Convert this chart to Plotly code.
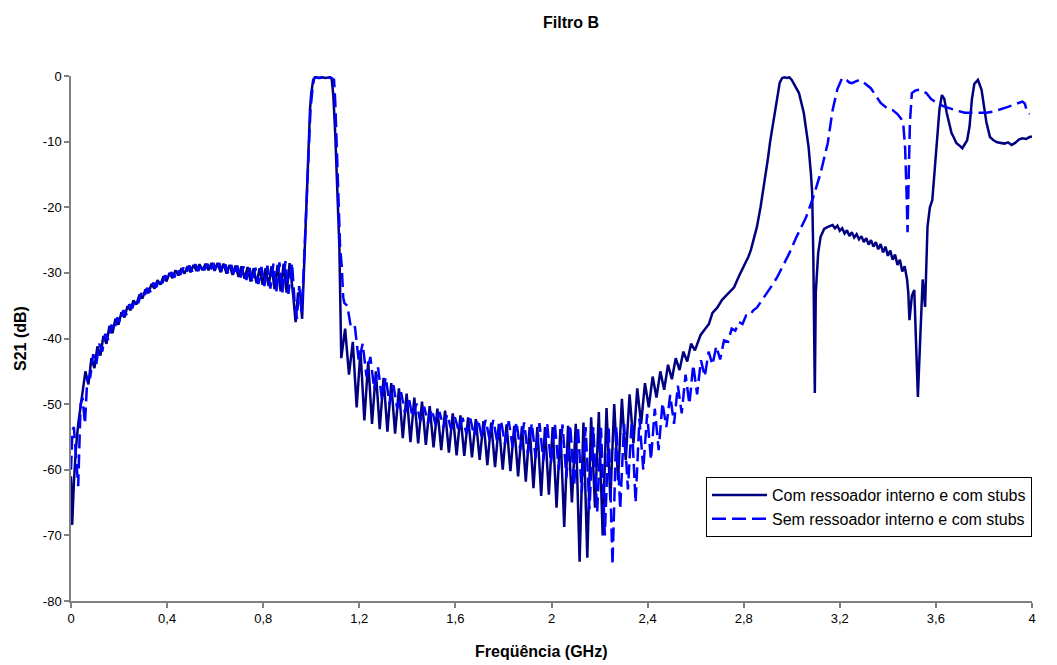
import plotly.graph_objects as go

# ---------------- S21 data (GHz, dB) ----------------
# Filter with internal resonator and stubs (solid)
solid_start_f = [0.0, 0.005, 0.012, 0.02, 0.03, 0.04, 0.05]
solid_start_db = [-61, -68.4, -62, -57, -53, -50.5, -48]

# low band ripple, sampled every 0.0125 GHz from 0.06 GHz
solid_low_f0, solid_low_step = 0.06, 0.0125
solid_low_db = [
    -45, -47, -43, -44.5, -41.2, -42.6, -39.6, -40.8, -38.1, -39.2,
    -37, -37.9, -36, -36.8, -35.1, -35.7, -34.2, -34.8, -33.3, -33.9,
    -32.5, -33.1, -31.7, -32.4, -31.1, -31.8, -30.5, -31.3, -30, -30.8,
    -29.6, -30.4, -29.3, -30.1, -29, -29.9, -28.8, -29.7, -28.7, -29.6,
    -28.6, -29.6, -28.5, -29.7, -28.5, -29.9, -28.6, -30.1, -28.8, -30.3,
    -28.9, -30.6, -29, -30.9, -29.1, -31.3, -29.3, -31.6, -29.3, -31.8,
    -29.3, -32, -29, -32.5, -28.8, -32.8, -28.6, -33, -28.5,
]

# passband around 1.05 GHz
solid_band_f = [0.925, 0.935, 0.945, 0.955, 0.962, 0.97, 0.978, 0.987, 0.995, 1.0,
                1.008, 1.015, 1.03, 1.045, 1.06, 1.075, 1.085, 1.092, 1.1, 1.107,
                1.112, 1.117]
solid_band_db = [-33.5, -37.5, -33, -33.5, -37, -30, -22, -12.8, -5, -2.6,
                 -0.6, -0.2, -0.3, -0.2, -0.3, -0.2, -0.4, -3, -9, -15,
                 -21, -26]

# stopband ripple, sampled every 0.016 GHz from 1.125 GHz
solid_mid_f0, solid_mid_step = 1.125, 0.016
solid_mid_db = [
    -43, -38.5, -45.5, -40.5, -50.5, -41.8, -52.5, -43.5, -53, -45,
    -53.8, -46, -54.2, -46.8, -54.5, -47.6, -55.2, -48.4, -55.8, -49,
    -56, -49.6, -56.2, -50.3, -56.6, -50.7, -57, -51, -57.4, -51.4,
    -57.8, -51.7, -57.9, -52, -58.1, -52.3, -58.5, -52.6, -59.3, -52.8,
    -59.6, -53, -60, -53.1, -60.2, -53.3, -61, -53.4, -61.8, -53.5,
    -62.8, -53.5, -64, -53.5, -63.8, -53.5, -65.8, -53.8, -68.7, -53.3,
    -65, -53, -74, -52.8, -73.4, -52, -65.8, -51.2, -70, -50.6,
    -64.6, -50, -61.6, -49.2, -58.5, -48.5, -56, -47.6, -53, -46.8,
    -50.5, -45.8, -49, -45, -47.8, -44, -46.2, -43, -44.8, -42,
    -43.5, -40.8, -41.8,
]

# upper band, spurious responses
solid_high_f = [
    2.62, 2.64, 2.655, 2.67, 2.69, 2.71, 2.73, 2.76, 2.78, 2.8,
    2.82, 2.83, 2.845, 2.855, 2.87, 2.88, 2.89, 2.9, 2.91, 2.92,
    2.93, 2.94, 2.95, 2.96, 2.97, 2.98, 2.99, 3.0, 3.015, 3.03,
    3.05, 3.07, 3.08, 3.085, 3.09, 3.096, 3.1, 3.11, 3.12, 3.135,
    3.15, 3.17, 3.18, 3.19, 3.2, 3.21, 3.22, 3.23, 3.24, 3.25,
    3.26, 3.27, 3.28, 3.29, 3.3, 3.31, 3.32, 3.33, 3.34, 3.35,
    3.36, 3.37, 3.38, 3.39, 3.4, 3.41, 3.42, 3.43, 3.44, 3.45,
    3.46, 3.47, 3.48, 3.485, 3.49, 3.5, 3.51, 3.518, 3.525, 3.535,
    3.545, 3.555, 3.565, 3.575, 3.585, 3.595, 3.605, 3.615, 3.625, 3.635,
    3.645, 3.655, 3.665, 3.675, 3.685, 3.695, 3.71, 3.72, 3.73, 3.74,
    3.75, 3.76, 3.775, 3.79, 3.8, 3.81, 3.825, 3.84, 3.855, 3.87,
    3.885, 3.9, 3.915, 3.93, 3.945, 3.96, 3.975, 3.99, 4.0,
]
solid_high_db = [
    -39.5, -38.5, -37.8, -36.1, -35.3, -34.1, -33.4, -32.2, -30.5, -29.1,
    -27.5, -26.5, -24.5, -23, -20, -17.8, -15, -12.8, -10, -7.7,
    -5, -2.6, -1, -0.3, -0.2, -0.3, -0.2, -0.6, -1.5, -2.6,
    -5.6, -10.8, -15, -17.8, -28, -48.3, -33, -27, -24.5, -23.3,
    -23, -22.7, -23.2, -22.8, -23.6, -23.2, -24, -23.5, -24.4, -23.8,
    -24.6, -24.1, -24.9, -24.4, -25.3, -24.7, -25.7, -25, -26, -25.3,
    -26.4, -25.6, -26.9, -26, -27.4, -26.6, -28, -27.2, -28.8, -28,
    -29.8, -29, -31, -33, -37.2, -33.5, -32.6, -40, -48.9, -39.8,
    -31, -35.2, -23, -20, -18.9, -14.3, -9, -5, -2.9, -3.5,
    -5.6, -7, -8.7, -9.4, -10.2, -10.5, -11, -10.4, -9.8, -7.7,
    -3.5, -1.2, -0.6, -2.1, -4.5, -7, -9.3, -9.8, -10.1, -10.2,
    -10.3, -10.1, -10.5, -10.2, -9.7, -9.5, -9.6, -9.3, -9.2,
]

# Filter without internal resonator, with stubs (dashed)
dash_start_f = [0.0, 0.006, 0.012, 0.02, 0.03, 0.04, 0.048, 0.058, 0.068]
dash_start_db = [-60, -54, -53.5, -58, -62.5, -50, -49, -53, -46]

dash_low_f0, dash_low_step = 0.08, 0.0125
dash_low_db = [
    -45.9, -42.4, -43.9, -40.8, -42, -39.3, -40.2, -37.9, -38.8, -36.8,
    -37.5, -35.7, -36.4, -34.8, -35.4, -34, -34.6, -33.1, -33.7, -32.3,
    -32.9, -31.5, -32.2, -30.9, -31.6, -30.4, -31.1, -29.9, -30.7, -29.5,
    -30.3, -29.2, -30, -28.9, -29.8, -28.7, -29.7, -28.6, -29.6, -28.6,
    -29.7, -28.5, -29.8, -28.5, -30, -28.7, -30.2, -28.8, -30.5, -28.9,
    -30.8, -29, -31.1, -29.1, -31.5, -29.2, -31.7, -29.1, -32, -28.9,
    -32.4, -28.6, -32.8, -28.4, -33, -28.2, -33.2,
]

dash_band_f = [0.92, 0.93, 0.94, 0.95, 0.96, 0.968, 0.978, 0.988, 0.997, 1.005,
               1.012, 1.02, 1.035, 1.05, 1.065, 1.08, 1.095, 1.1, 1.105, 1.11,
               1.115, 1.12, 1.127, 1.133, 1.138]
dash_band_db = [-28.5, -34, -37, -32, -36, -30, -22, -12.8, -5, -2,
                -0.4, -0.2, -0.3, -0.2, -0.4, -0.2, -0.6, -4, -10, -16,
                -21, -26, -29, -33.7, -34.6]

dash_mid_f0, dash_mid_step = 1.15, 0.016
dash_mid_db = [
    -35, -38.5, -38.3, -43.5, -40.8, -45.8, -42.8, -47.7, -44.4, -49.2,
    -45.9, -50, -47.1, -50.7, -48.2, -51.3, -49.1, -52, -49.9, -52.6,
    -50.4, -52.9, -50.8, -53.2, -51.2, -53.5, -51.6, -53.8, -52, -54.1,
    -52.1, -54.5, -52.2, -54.8, -52.3, -55.1, -52.4, -55.4, -52.4, -55.8,
    -52.5, -56.1, -52.6, -56.5, -52.7, -57, -52.8, -57.6, -52.9, -58.2,
    -52.9, -58.6, -53, -59, -53, -60, -53.1, -61.2, -53.2, -62.5,
    -53.4, -63.5, -53.5, -66, -53.5, -66.5, -53.6, -70, -53.6, -74.5,
    -53.4, -66, -53, -63, -52.6, -65, -52.2, -60, -51.5, -58.5,
    -50.7, -57, -49.8, -53.5, -48.6, -53, -47.2, -51.4, -45.5, -50,
    -44, -48.5, -43.3, -45.8, -42, -44, -41.2, -43.2, -40.3,
]

dash_high_f = [
    2.735, 2.75, 2.765, 2.78, 2.795, 2.81, 2.825, 2.84, 2.855, 2.87,
    2.885, 2.9, 2.92, 2.94, 2.965, 2.99, 3.02, 3.06, 3.09, 3.12,
    3.15, 3.17, 3.19, 3.2, 3.21, 3.225, 3.24, 3.25, 3.265, 3.28,
    3.3, 3.33, 3.35, 3.37, 3.4, 3.42, 3.44, 3.455, 3.465, 3.472,
    3.478, 3.482, 3.487, 3.492, 3.5, 3.515, 3.53, 3.55, 3.56, 3.58,
    3.6, 3.63, 3.66, 3.69, 3.72, 3.75, 3.78, 3.81, 3.84, 3.87,
    3.9, 3.93, 3.96, 3.97, 3.98, 3.99,
]
dash_high_db = [
    -40.5, -38.5, -38.8, -37.5, -37.8, -36.5, -36.5, -35.7, -35.3, -34.5,
    -33.8, -33, -31.8, -30.6, -28.8, -27, -24.5, -21.5, -18.4, -14.8,
    -10.2, -5.2, -2, -1.1, -0.3, -0.5, -1, -1.1, -0.8, -0.6,
    -1, -1.9, -3, -4.1, -5, -5.2, -5.8, -6.5, -7.7, -11,
    -18, -23.8, -15, -7, -2.6, -2.2, -2.1, -2.4, -2.6, -3.5,
    -4, -4.6, -5, -5.3, -5.6, -5.6, -5.7, -5.6, -5.4, -5.1,
    -4.7, -4.3, -3.9, -4.2, -5.5, -5.8,
]

x_tick_vals = [0, 0.4, 0.8, 1.2, 1.6, 2.0, 2.4, 2.8, 3.2, 3.6, 4.0]
x_tick_text = ["0", "0,4", "0,8", "1,2", "1,6", "2", "2,4", "2,8", "3,2", "3,6", "4"]
y_tick_vals = [0, -10, -20, -30, -40, -50, -60, -70, -80]
y_tick_text = ["0", "-10", "-20", "-30", "-40", "-50", "-60", "-70", "-80"]

series_names = ["Com ressoador interno e com stubs",
                "Sem ressoador interno e com stubs"]


def grid(f0, step, n):
    return [round(f0 + step * i, 4) for i in range(n)]


solid_f = (solid_start_f
           + grid(solid_low_f0, solid_low_step, len(solid_low_db))
           + solid_band_f
           + grid(solid_mid_f0, solid_mid_step, len(solid_mid_db))
           + solid_high_f)
solid_db = solid_start_db + solid_low_db + solid_band_db + solid_mid_db + solid_high_db

dash_f = (dash_start_f
          + grid(dash_low_f0, dash_low_step, len(dash_low_db))
          + dash_band_f
          + grid(dash_mid_f0, dash_mid_step, len(dash_mid_db))
          + dash_high_f)
dash_db = dash_start_db + dash_low_db + dash_band_db + dash_mid_db + dash_high_db

FONT = "Liberation Sans, Arial, sans-serif"
W, H = 1057, 665
ML, MR, MT, MB = 71, 25, 76, 64

fig = go.Figure()
fig.add_trace(go.Scatter(
    x=solid_f, y=solid_db, mode="lines", name=series_names[0],
    legendgroup="a",
    line=dict(color="#000080", width=2.5),
))
fig.add_trace(go.Scatter(
    x=dash_f, y=dash_db, mode="lines", name=series_names[1],
    legendgroup="b",
    line=dict(color="#0000FF", width=2.5, dash="14px,6px"),
))

# helpers to place text at pixel positions through paper coordinates
pw, ph = W - ML - MR, H - MT - MB


def px_x(px):
    return (px - ML) / pw


def px_y(py):
    return (H - MB - py) / ph


fig.update_layout(
    width=W, height=H,
    margin=dict(l=ML, r=MR, t=MT, b=MB),
    paper_bgcolor="white", plot_bgcolor="white",
    font=dict(family=FONT, size=13, color="black"),
    showlegend=True,
    legend=dict(
        x=1.0, xanchor="right", y=px_y(477), yanchor="top",
        bordercolor="black", borderwidth=1, bgcolor="white",
        font=dict(family=FONT, size=16, color="black"),
        tracegroupgap=0, itemwidth=55,
    ),
    annotations=[
        dict(text="<b>Filtro B</b>", x=px_x(571), y=px_y(22), xref="paper", yref="paper",
             xanchor="center", yanchor="middle", showarrow=False,
             font=dict(size=16, family=FONT, color="black")),
        dict(text="<b>Freqüência (GHz)</b>", x=px_x(541), y=px_y(651), xref="paper", yref="paper",
             xanchor="center", yanchor="middle", showarrow=False,
             font=dict(size=16, family=FONT, color="black")),
        dict(text="<b>S21 (dB)</b>", x=px_x(20), y=px_y(339), xref="paper", yref="paper",
             xanchor="center", yanchor="middle", showarrow=False, textangle=-90,
             font=dict(size=16, family=FONT, color="black")),
    ],
)

fig.update_xaxes(
    range=[0, 4], tickvals=x_tick_vals, ticktext=x_tick_text,
    showgrid=False, zeroline=False, showline=True, linecolor="#808080", linewidth=1.5,
    ticks="outside", ticklen=5, tickcolor="#808080", tickwidth=1.5,
    tickfont=dict(size=13, family=FONT, color="black"),
)
fig.update_yaxes(
    range=[-80, 0], tickvals=y_tick_vals, ticktext=y_tick_text,
    showgrid=False, zeroline=False, showline=True, linecolor="#808080", linewidth=1.5,
    ticks="outside", ticklen=5, tickcolor="#808080", tickwidth=1.5,
    tickfont=dict(size=13, family=FONT, color="black"),
)

fig.write_html("out.html")
